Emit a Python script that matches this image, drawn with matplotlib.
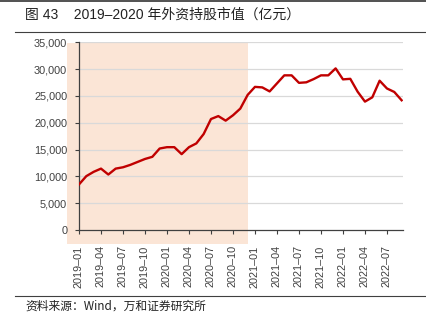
import matplotlib

matplotlib.use("Agg")
import matplotlib.pyplot as plt
from matplotlib.lines import Line2D
from matplotlib.patches import Rectangle

plt.rcParams["font.family"] = ["Liberation Sans", "Noto Sans CJK SC"]

TITLE = "图 43    2019–2020 年外资持股市值（亿元）"
SOURCE = "资料来源：Wind，万和证券研究所"

# monthly foreign holdings of A-shares, 2019-01 .. 2022-09 (100m CNY)
MONTHS = [f"{y}–{m:02d}" for y in (2019, 2020, 2021, 2022) for m in range(1, 13)][:45]
HOLDINGS = [
    8500, 10050, 10850, 11450, 10350, 11450, 11700, 12150, 12700, 13250, 13650, 15200,
    15450, 15450, 14150, 15450, 16150, 17900, 20700, 21250, 20400, 21400, 22650, 25200,
    26700, 26600, 25850, 27350, 28850, 28850, 27450, 27550, 28150, 28850, 28850, 30150,
    28100, 28200, 25800, 23950, 24750, 27850, 26400, 25750, 24200,
]
TICK_LABELS = MONTHS[::3]
Y_TICKS = [0, 5000, 10000, 15000, 20000, 25000, 30000, 35000]

fig = plt.figure(figsize=(4.27, 3.26), dpi=100)
ax = fig.add_axes([0.185, 0.2945, 0.759, 0.5755])

x = list(range(len(HOLDINGS)))

# 2019-2020 highlight band, runs a little past the axes on the left and below
ax.add_patch(Rectangle((-1.7, -2650), 24.8, 37500, facecolor="#FBE5D6",
                       edgecolor="none", zorder=0, clip_on=False))

for v in Y_TICKS[1:]:
    ax.axhline(v, color="#D9D9D9", lw=0.9, zorder=1)

ax.plot(x, HOLDINGS, color="#C00000", lw=1.7, zorder=3, solid_joinstyle="round")

ax.set_xlim(0, 44.2)
ax.set_ylim(0, 35000)
ax.set_yticks(Y_TICKS)
ax.set_yticklabels([f"{v:,}" for v in Y_TICKS])
ax.set_xticks(x[::3])
ax.set_xticklabels(TICK_LABELS, rotation=90)

ax.tick_params(axis="y", length=3, width=0.8, pad=5.5, labelsize=7.8,
               colors="#404040", labelcolor="#404040")
ax.tick_params(axis="x", length=3, width=0.8, pad=8, labelsize=7.8,
               colors="#404040", labelcolor="#404040")

for side in ("top", "right"):
    ax.spines[side].set_visible(False)
for side in ("left", "bottom"):
    ax.spines[side].set_color("#404040")
    ax.spines[side].set_linewidth(0.9)
ax.patch.set_alpha(0)

fig.text(25 / 427, 1 - 15 / 326, TITLE, fontsize=10, va="center", ha="left",
         color="#222222")
fig.text(25 / 427, 1 - 306 / 326, SOURCE, fontsize=8.5, va="center", ha="left",
         color="#222222", family=["Noto Sans CJK SC"])

fig.add_artist(Line2D([0, 1], [1 - 0.5 / 326] * 2, color="#333333", lw=1.2))
fig.add_artist(Line2D([15 / 427, 1], [1 - 31.5 / 326] * 2, color="#404040", lw=0.8))
fig.add_artist(Line2D([15 / 427, 1], [1 - 295.7 / 326] * 2, color="#404040", lw=0.8))

fig.savefig("out.png", dpi=100)
